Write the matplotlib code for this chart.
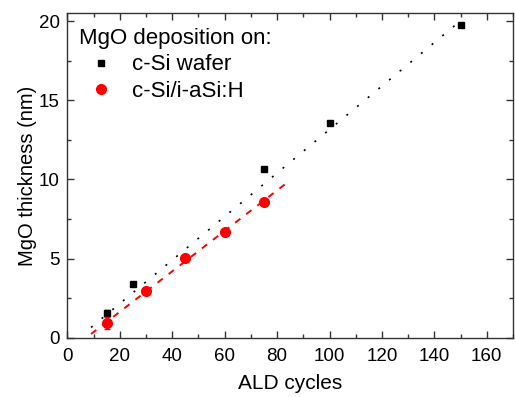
import matplotlib
matplotlib.use("Agg")
import matplotlib.pyplot as plt
import numpy as np
from matplotlib.ticker import MultipleLocator

plt.rcParams['font.family'] = ['Liberation Sans', 'DejaVu Sans']

# Data
cycles_si = [15, 25, 75, 100, 150]
thick_si = [1.55, 3.4, 10.65, 13.55, 19.75]
err_si = [0.2, 0, 0, 0, 0]

cycles_asi = [15, 30, 45, 60, 75]
thick_asi = [0.93, 2.95, 5.05, 6.7, 8.6]
err_asi = [0.4, 0, 0, 0, 0]

# Linear fits (slope, intercept, x-range)
fit_si = (0.1373, -0.58, 9, 148.5)
fit_asi = (0.1277, -0.905, 9, 84)

fig = plt.figure(figsize=(5.15, 3.97), dpi=100)
ax = fig.add_axes([0.131, 0.149, 0.865, 0.818])

xs = np.array(fit_si[2:])
ax.plot(xs, fit_si[0] * xs + fit_si[1], color='black', lw=1.2,
        linestyle=(0, (1.2, 7.1)), zorder=2)
xa = np.array(fit_asi[2:])
ax.plot(xa, fit_asi[0] * xa + fit_asi[1], color='#ff0000', lw=1.4,
        linestyle=(0, (3.4, 3.8)), zorder=2)

ax.errorbar(cycles_si, thick_si, yerr=err_si, fmt='s', color='black',
            ms=5, capsize=2.5, elinewidth=1, capthick=1, zorder=3,
            label='c-Si wafer')
ax.errorbar(cycles_asi, thick_asi, yerr=err_asi, fmt='o', color='#ff0000',
            ms=7, capsize=2.5, elinewidth=1, capthick=1, zorder=4,
            label='c-Si/i-aSi:H')

ax.set_xlim(0, 170)
ax.set_ylim(0, 20.5)
ax.xaxis.set_major_locator(MultipleLocator(20))
ax.xaxis.set_minor_locator(MultipleLocator(10))
ax.yaxis.set_major_locator(MultipleLocator(5))
ax.yaxis.set_minor_locator(MultipleLocator(2.5))
ax.tick_params(which='both', direction='in', top=True, right=True,
               labelsize=13.5, width=1, color='#333333')
ax.tick_params(which='major', length=5)
ax.tick_params(axis='x', which='major', pad=7)
ax.tick_params(axis='y', which='major', pad=5.5)
ax.tick_params(which='minor', length=3)
for s in ax.spines.values():
    s.set_linewidth(1)
    s.set_color('#333333')

ax.set_xlabel('ALD cycles', fontsize=15, labelpad=7)
ax.set_ylabel('MgO thickness (nm)', fontsize=14.5, labelpad=1)

handles, labels = ax.get_legend_handles_labels()
handles = [h[0] for h in handles]
leg = ax.legend(handles, labels, title='MgO deposition on:', loc='upper left',
                frameon=False, fontsize=16, title_fontsize=16,
                borderaxespad=0.0, handletextpad=0.4, labelspacing=0.25,
                handlelength=2.0, borderpad=0.3,
                bbox_to_anchor=(0.01, 0.975))
leg._legend_box.align = 'left'

fig.savefig('out.png', dpi=100)
